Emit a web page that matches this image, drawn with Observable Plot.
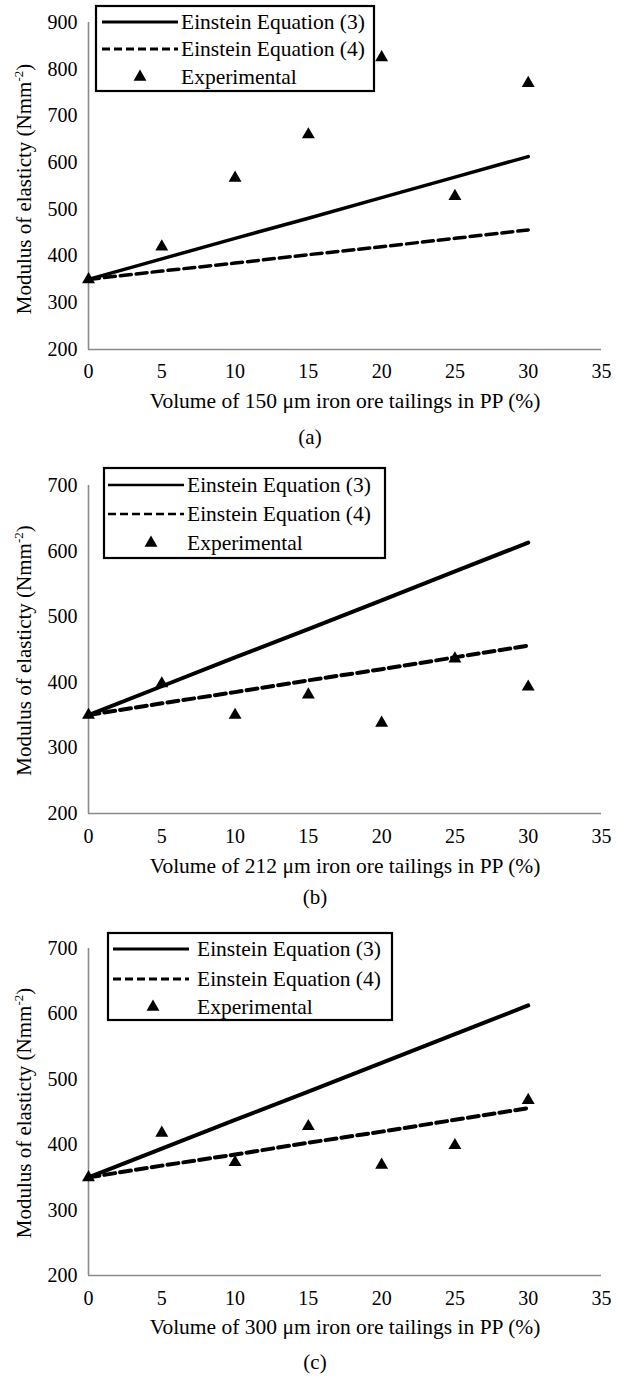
<!DOCTYPE html>
<html>
<head>
<meta charset="utf-8">
<script src="https://cdn.jsdelivr.net/npm/d3@7"></script>
<script src="https://cdn.jsdelivr.net/npm/@observablehq/plot@0.6"></script>
<style>
  html, body { margin: 0; padding: 0; background: #fff; }
  #root { position: relative; width: 621px; height: 1380px; overflow: hidden; background: #fff; }
  .panel { position: absolute; left: 0; }
  .legend { position: absolute; }
  svg text { font-family: 'Liberation Serif', Tinos, 'Times New Roman', Times, 'DejaVu Serif', serif !important; }
</style>
</head>
<body>
<div id="root"></div>
<script>
// ---- data ----
const volume = [0, 5, 10, 15, 20, 25, 30];
const einstein3 = [350, 394, 438, 481, 525, 569, 613];
const einstein4 = [350, 368, 385, 403, 420, 438, 456];
const experimentalA = [350, 420, 567, 660, 825, 528, 770];
const experimentalB = [350, 398, 350, 381, 338, 436, 393];
const experimentalC = [350, 418, 373, 428, 369, 399, 468];
const xTicks = [0, 5, 10, 15, 20, 25, 30, 35];
const yTicksA = [200, 300, 400, 500, 600, 700, 800, 900];
const yTicksBC = [200, 300, 400, 500, 600, 700];
const seriesNames = ["Einstein Equation (3)", "Einstein Equation (4)", "Experimental"];
const yTitle = "Modulus of elasticty (Nmm-2)";
const xTitles = [
  "Volume of 150 μm iron ore tailings in PP (%)",
  "Volume of 212 μm iron ore tailings in PP (%)",
  "Volume of 300 μm iron ore tailings in PP (%)"
];
const captions = ["(a)", "(b)", "(c)"];

const toRows = (ys) => volume.map((v, i) => ({x: v, y: ys[i]}));
const FONT = "'Liberation Serif', Tinos, 'Times New Roman', Times, 'DejaVu Serif', serif";

const panels = [
  {top: 0, mt: 22, mb: 111, ymax: 900, yTicks: yTicksA, exp: experimentalA,
   tickPad: 14, titleDy: 58, capDy: 94, capDx: -35, lw: 3.5, yDy: 3,
   legend: {left: 96, top: 6, w: 278, h: 85, rows: [16, 43, 71], x1: 6, x2: 82, tx: 85, tri: 44, lw: 3}},
  {top: 460, mt: 25, mb: 107, ymax: 700, yTicks: yTicksBC, exp: experimentalB,
   tickPad: 15, titleDy: 59, capDy: 90, capDx: -30, lw: 4, yDy: 1,
   legend: {left: 104, top: 468, w: 281, h: 90, rows: [17, 46, 75], x1: 4, x2: 80, tx: 83, tri: 47, lw: 2.5}},
  {top: 920, mt: 28, mb: 105, ymax: 700, yTicks: yTicksBC, exp: experimentalC,
   tickPad: 15, titleDy: 58, capDy: 93, capDx: -30, lw: 4, yDy: 1,
   legend: {left: 108, top: 933, w: 284, h: 87, rows: [16, 46, 74], x1: 5, x2: 81, tx: 89, tri: 45, lw: 3}}
];

const root = document.getElementById("root");

panels.forEach((p, k) => {
  const chart = Plot.plot({
    width: 621,
    height: 460,
    marginLeft: 88,
    marginRight: 20,
    marginTop: p.mt,
    marginBottom: p.mb,
    style: `font-family: ${FONT}; font-size: 20px; color: #000; background: transparent; overflow: visible;`,
    x: {domain: [0, 35]},
    y: {domain: [200, p.ymax]},
    marks: [
      Plot.axisX({ticks: xTicks, tickSize: 0, tickPadding: p.tickPad, label: null, fontSize: 20, fontFamily: FONT}),
      Plot.axisY({ticks: p.yTicks, tickSize: 0, tickPadding: 11, label: null, fontSize: 20, fontFamily: FONT}),
      Plot.ruleX([0], {stroke: "#8a8a8a", strokeWidth: 1.6}),
      Plot.ruleY([200], {stroke: "#8a8a8a", strokeWidth: 1.6}),
      Plot.line(toRows(einstein3), {x: "x", y: "y", stroke: "#000", strokeWidth: p.lw}),
      Plot.line(toRows(einstein4), {x: "x", y: "y", stroke: "#000", strokeWidth: p.lw, strokeDasharray: "11,5"}),
      Plot.dot(toRows(p.exp), {x: "x", y: "y", symbol: "triangle", fill: "#000", stroke: "none", r: 4.8}),
      Plot.text([xTitles[k]], {frameAnchor: "bottom", dy: p.titleDy, fontSize: 21.5, fontFamily: FONT, fill: "#000"}),
      Plot.text([captions[k]], {frameAnchor: "bottom", dy: p.capDy, dx: p.capDx, fontSize: 21, fontFamily: FONT, fill: "#000"}),
      Plot.text([yTitle], {frameAnchor: "left", textAnchor: "middle", rotate: -90, dx: -64, dy: p.yDy, fontSize: 21, fontFamily: FONT, fill: "#000"})
    ]
  });
  chart.classList.add("panel");
  chart.style.top = p.top + "px";
  // superscript on the unit
  chart.querySelectorAll("text").forEach(t => {
    if (t.textContent === yTitle) {
      t.textContent = "Modulus of elasticty (Nmm";
      const sup = document.createElementNS("http://www.w3.org/2000/svg", "tspan");
      sup.setAttribute("dy", "-8");
      sup.setAttribute("font-size", "13");
      sup.textContent = "-2";
      const close = document.createElementNS("http://www.w3.org/2000/svg", "tspan");
      close.setAttribute("dy", "8");
      close.textContent = ")";
      t.appendChild(sup);
      t.appendChild(close);
    }
  });
  root.appendChild(chart);

  // legend
  const L = p.legend;
  const svg = d3.create("svg")
    .attr("class", "legend")
    .attr("width", L.w + 4)
    .attr("height", L.h + 4)
    .style("left", (L.left - 2) + "px")
    .style("top", (L.top - 2) + "px");
  svg.append("rect").attr("x", 2).attr("y", 2).attr("width", L.w).attr("height", L.h)
    .attr("fill", "#fff").attr("stroke", "#000").attr("stroke-width", 2.2);
  const g = svg.append("g").attr("transform", "translate(2,2)");
  g.append("line").attr("x1", L.x1).attr("x2", L.x2).attr("y1", L.rows[0]).attr("y2", L.rows[0])
    .attr("stroke", "#000").attr("stroke-width", L.lw);
  g.append("line").attr("x1", L.x1).attr("x2", L.x2).attr("y1", L.rows[1]).attr("y2", L.rows[1])
    .attr("stroke", "#000").attr("stroke-width", L.lw).attr("stroke-dasharray", "8,4");
  g.append("path").attr("d", d3.symbol(d3.symbolTriangle, Math.PI * 4.8 * 4.8)())
    .attr("transform", `translate(${L.tri},${L.rows[2]})`).attr("fill", "#000");
  seriesNames.forEach((s, i) => {
    g.append("text").attr("x", L.tx).attr("y", L.rows[i]).attr("dy", "0.34em")
      .attr("font-size", 21.5).attr("font-family", FONT).attr("fill", "#000").text(s);
  });
  root.appendChild(svg.node());
});
</script>
</body>
</html>
